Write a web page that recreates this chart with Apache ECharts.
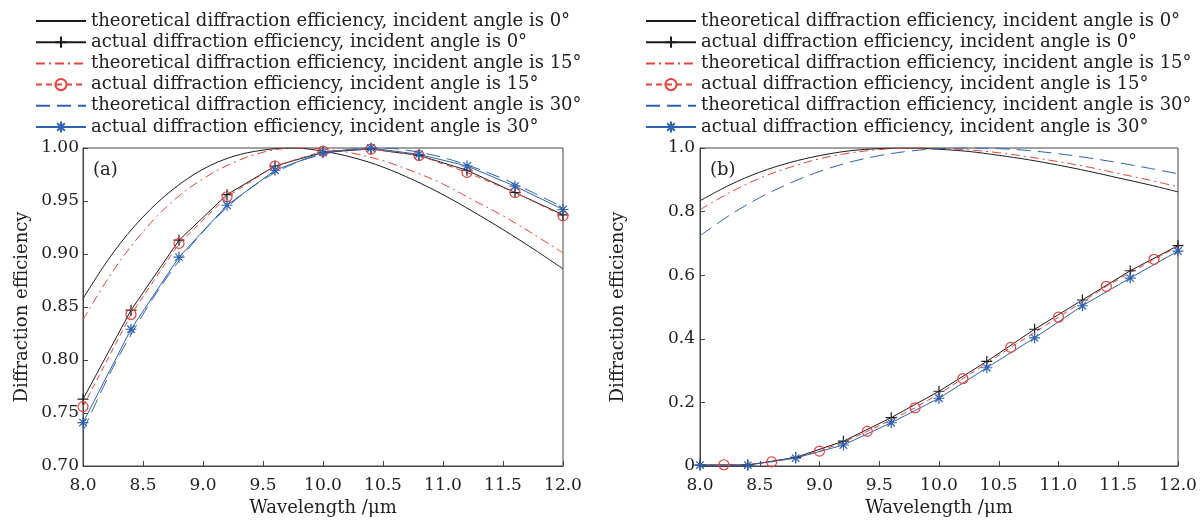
<!DOCTYPE html>
<html>
<head>
<meta charset="utf-8">
<script src="https://cdn.jsdelivr.net/npm/echarts@6/dist/echarts.min.js"></script>
<style>
  html, body { margin: 0; padding: 0; background: #fff; }
  #chart { width: 1203px; height: 522px; }
</style>
</head>
<body>
<div id="chart"></div>
<script>
// Wavelength grid (µm) for the theoretical curves
const theoryWl = [8.0, 8.25, 8.5, 8.75, 9.0, 9.25, 9.5, 9.75, 10.0, 10.25, 10.5, 10.75, 11.0, 11.25, 11.5, 11.75, 12.0];

// (a) theoretical efficiencies
const aTheory0  = [0.858, 0.901, 0.935, 0.961, 0.980, 0.992, 0.998, 1.000, 0.997, 0.991, 0.982, 0.970, 0.956, 0.940, 0.923, 0.905, 0.886];
const aTheory15 = [0.838, 0.884, 0.921, 0.950, 0.971, 0.986, 0.996, 1.000, 0.999, 0.995, 0.988, 0.978, 0.966, 0.951, 0.936, 0.919, 0.901];
const aTheory30 = [0.733, 0.793, 0.843, 0.886, 0.921, 0.949, 0.970, 0.985, 0.994, 0.999, 1.000, 0.997, 0.991, 0.982, 0.971, 0.958, 0.944];

// (a) measured efficiencies
const aActualWl = [8.0, 8.4, 8.8, 9.2, 9.6, 10.0, 10.4, 10.8, 11.2, 11.6, 12.0];
const aActual0  = [0.763, 0.847, 0.913, 0.956, 0.983, 0.996, 0.999, 0.993, 0.979, 0.958, 0.937];
const aActual15 = [0.756, 0.843, 0.910, 0.954, 0.983, 0.997, 0.999, 0.993, 0.977, 0.958, 0.936];
const aActual30 = [0.741, 0.829, 0.897, 0.946, 0.979, 0.996, 1.000, 0.994, 0.983, 0.964, 0.942];

// (b) theoretical efficiencies
const bTheory0  = [0.834, 0.884, 0.924, 0.954, 0.976, 0.991, 0.998, 1.000, 0.996, 0.989, 0.977, 0.963, 0.946, 0.927, 0.906, 0.885, 0.862];
const bTheory15 = [0.806, 0.860, 0.905, 0.939, 0.966, 0.984, 0.995, 1.000, 0.999, 0.994, 0.985, 0.972, 0.957, 0.940, 0.920, 0.900, 0.878];
const bTheory30 = [0.724, 0.789, 0.844, 0.889, 0.926, 0.955, 0.976, 0.990, 0.998, 1.000, 0.998, 0.992, 0.982, 0.969, 0.954, 0.937, 0.919];

// (b) measured efficiencies
const bActualWl   = [8.0, 8.4, 8.8, 9.2, 9.6, 10.0, 10.4, 10.8, 11.2, 11.6, 12.0];
const bActual0    = [0.003, 0.003, 0.027, 0.078, 0.152, 0.235, 0.329, 0.430, 0.522, 0.614, 0.693];
const bActual30   = [0.003, 0.003, 0.025, 0.066, 0.136, 0.213, 0.309, 0.403, 0.504, 0.591, 0.676];
const bActual15Wl = [8.0, 8.2, 8.4, 8.6, 8.8, 9.0, 9.2, 9.4, 9.6, 9.8, 10.0, 10.2, 10.4, 10.6, 10.8, 11.0, 11.2, 11.4, 11.6, 11.8, 12.0];
const bActual15   = [0.004, 0.004, 0.005, 0.013, 0.026, 0.047, 0.075, 0.109, 0.145, 0.183, 0.227, 0.275, 0.323, 0.373, 0.420, 0.468, 0.516, 0.565, 0.608, 0.650, 0.690];

const names = [
  'theoretical diffraction efficiency, incident angle is 0°',
  'actual diffraction efficiency, incident angle is 0°',
  'theoretical diffraction efficiency, incident angle is 15°',
  'actual diffraction efficiency, incident angle is 15°',
  'theoretical diffraction efficiency, incident angle is 30°',
  'actual diffraction efficiency, incident angle is 30°'
];

const BLACK = '#1c1c1c';
const RED = '#e2453c';
const BLUE = '#2f62b0';
const FONT = 'DejaVu Serif';
const PLUS = 'path://M0,5L10,5M5,0L5,10';
const STAR = 'path://M0,5L10,5M5,0L5,10M1.6,1.6L8.4,8.4M1.6,8.4L8.4,1.6';

const pairs = (xs, ys) => xs.map((x, i) => [x, ys[i]]);

function theorySeries(name, ys, color, dash, idx) {
  return {
    name, type: 'line', xAxisIndex: idx, yAxisIndex: idx,
    data: pairs(theoryWl, ys), smooth: 0.35, showSymbol: false, symbol: 'none',
    lineStyle: { color, width: 1, type: dash }, itemStyle: { color },
    z: 2
  };
}

function actualSeries(name, xs, ys, color, dash, symbol, idx, everyOther) {
  const data = pairs(xs, ys).map((p, i) =>
    everyOther && i % 2 === 0 ? { value: p, symbol: 'none' } : { value: p });
  const isCircle = symbol === 'circle';
  return {
    name, type: 'line', xAxisIndex: idx, yAxisIndex: idx,
    data, symbol, symbolSize: isCircle ? 10 : 11, showAllSymbol: true,
    lineStyle: { color, width: 1, type: dash },
    itemStyle: { color: isCircle ? 'rgba(255,255,255,0)' : color, borderColor: color, borderWidth: 1.2 },
    z: 3
  };
}

function legendFor(left) {
  return {
    orient: 'vertical', left, top: 7,
    itemWidth: 50, itemHeight: 14, itemGap: 3.2,
    textStyle: { fontFamily: FONT, fontSize: 18, color: '#222' },
    // theoretical curves carry no marker, so their key shows the line only
    data: names.map((n, i) => (i % 2 === 0 ? { name: n, itemStyle: { opacity: 0 } } : { name: n })),
    selectedMode: false
  };
}

const axisLabelStyle = { fontFamily: FONT, fontSize: 17, color: '#222' };
const axisNameStyle = { fontFamily: FONT, fontSize: 18, color: '#222' };

function xAxisFor(idx) {
  return {
    type: 'value', gridIndex: idx, min: 8, max: 12, interval: 0.5,
    name: 'Wavelength /μm', nameLocation: 'middle', nameGap: 33, nameTextStyle: axisNameStyle,
    axisLine: { lineStyle: { color: '#444', width: 1 } },
    axisTick: { inside: true, length: 5, lineStyle: { color: '#444' } },
    axisLabel: { ...axisLabelStyle, margin: 11, formatter: v => v.toFixed(1) },
    splitLine: { show: false }
  };
}

const option = {
  backgroundColor: '#fff',
  animation: false,
  textStyle: { fontFamily: FONT },
  legend: [legendFor(30), legendFor(640)],
  title: [
    { text: '(a)', left: 88, top: 156, textStyle: { fontFamily: FONT, fontSize: 18, fontWeight: 'normal', color: '#222' } },
    { text: '(b)', left: 705, top: 156, textStyle: { fontFamily: FONT, fontSize: 18, fontWeight: 'normal', color: '#222' } }
  ],
  grid: [
    { left: 83, right: 640, top: 148, bottom: 50, show: true, borderColor: '#444', borderWidth: 1, containLabel: false },
    { left: 700, right: 25, top: 148, bottom: 50, show: true, borderColor: '#444', borderWidth: 1, containLabel: false }
  ],
  xAxis: [xAxisFor(0), xAxisFor(1)],
  yAxis: [
    {
      type: 'value', gridIndex: 0, min: 0.7, max: 1.0, interval: 0.05,
      name: 'Diffraction efficiency', nameLocation: 'middle', nameGap: 52, nameTextStyle: axisNameStyle,
      axisLine: { lineStyle: { color: '#444', width: 1 } },
      axisTick: { inside: true, length: 5, lineStyle: { color: '#444' } },
      axisLabel: { ...axisLabelStyle, margin: 4, formatter: v => v.toFixed(2) },
      splitLine: { show: false }
    },
    {
      type: 'value', gridIndex: 1, min: 0, max: 1.0, interval: 0.2,
      name: 'Diffraction efficiency', nameLocation: 'middle', nameGap: 73, nameTextStyle: axisNameStyle,
      axisLine: { lineStyle: { color: '#444', width: 1 } },
      axisTick: { inside: true, length: 5, lineStyle: { color: '#444' } },
      axisLabel: { ...axisLabelStyle, margin: 5, formatter: v => (v === 0 ? '0' : v.toFixed(1)) },
      splitLine: { show: false }
    }
  ],
  series: [
    theorySeries(names[0], aTheory0, BLACK, 'solid', 0),
    actualSeries(names[1], aActualWl, aActual0, BLACK, 'solid', PLUS, 0, false),
    theorySeries(names[2], aTheory15, RED, [9, 4, 2, 4], 0),
    actualSeries(names[3], aActualWl, aActual15, RED, [6, 4], 'circle', 0, false),
    theorySeries(names[4], aTheory30, BLUE, [14, 7], 0),
    actualSeries(names[5], aActualWl, aActual30, BLUE, 'solid', STAR, 0, false),

    theorySeries(names[0], bTheory0, BLACK, 'solid', 1),
    actualSeries(names[1], bActualWl, bActual0, BLACK, 'solid', PLUS, 1, false),
    theorySeries(names[2], bTheory15, RED, [9, 4, 2, 4], 1),
    actualSeries(names[3], bActual15Wl, bActual15, RED, [6, 4], 'circle', 1, true),
    theorySeries(names[4], bTheory30, BLUE, [14, 7], 1),
    actualSeries(names[5], bActualWl, bActual30, BLUE, 'solid', STAR, 1, false)
  ]
};

const chart = echarts.init(document.getElementById('chart'), null, { renderer: 'canvas' });
chart.setOption(option);
</script>
</body>
</html>
